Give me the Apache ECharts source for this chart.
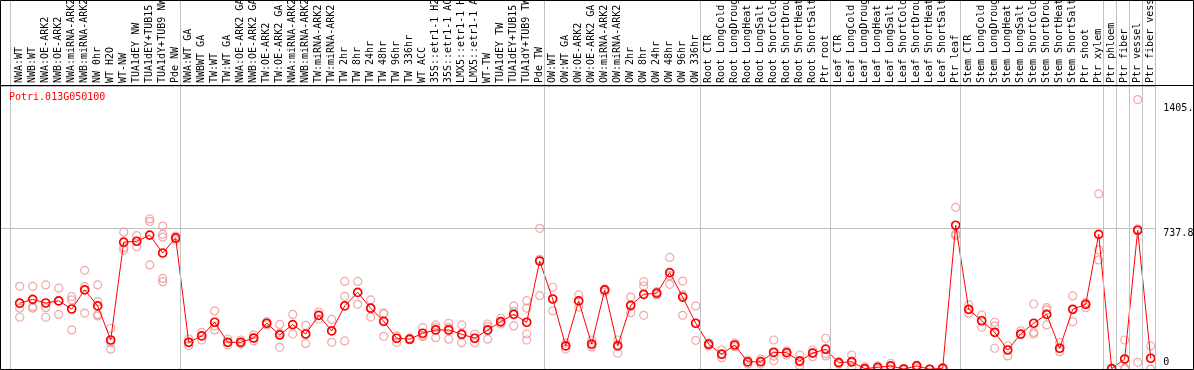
<!DOCTYPE html>
<html><head><meta charset="utf-8">
<script src="https://cdn.jsdelivr.net/npm/echarts@6/dist/echarts.min.js"></script>
<style>html,body{margin:0;padding:0;background:#fff}#c{width:1194px;height:370px}</style>
</head><body><div id="c"></div>
<script>
const title = 'Potri.013G050100';
const categories = [
 'NWA:WT','NWB:WT','NWA:OE-ARK2','NWB:OE-ARK2','NWA:miRNA-ARK2','NWB:miRNA-ARK2','NW 0hr','WT H2O','WT-NW','TUA1dEY NW','TUA1dEY+TUB15 NW','TUA1dY+TUB9 NW','Pde NW',
 'NWA:WT GA','NWBWT GA','TW:WT','TW:WT GA','NWA:OE-ARK2 GA','NWB:OE-ARK2 GA','TW:OE-ARK2','TW:OE-ARK2 GA','NWA:miRNA-ARK2 GA','NWB:miRNA-ARK2 GA','TW:miRNA-ARK2','TW:miRNA-ARK2 GA',
 'TW 2hr','TW 8hr','TW 24hr','TW 48hr','TW 96hr','TW 336hr','WT ACC','35S::etr1-1 H2O','35S::etr1-1 ACC','LMX5::etr1-1 H2O','LMX5::etr1-1 ACC','WT-TW','TUA1dEY TW','TUA1dEY+TUB15 TW','TUA1dY+TUB9 TW','Pde TW',
 'OW:WT','OW:WT GA','OW:OE-ARK2','OW:OE-ARK2 GA','OW:miRNA-ARK2','OW:miRNA-ARK2 GA','OW 2hr','OW 8hr','OW 24hr','OW 48hr','OW 96hr','OW 336hr',
 'Root CTR','Root LongCold','Root LongDrought','Root LongHeat','Root LongSalt','Root ShortCold','Root ShortDrought','Root ShortHeat','Root ShortSalt','Ptr root',
 'Leaf CTR','Leaf LongCold','Leaf LongDrought','Leaf LongHeat','Leaf LongSalt','Leaf ShortCold','Leaf ShortDrought','Leaf ShortHeat','Leaf ShortSalt','Ptr leaf',
 'Stem CTR','Stem LongCold','Stem LongDrought','Stem LongHeat','Stem LongSalt','Stem ShortCold','Stem ShortDrought','Stem ShortHeat','Stem ShortSalt','Ptr shoot','Ptr xylem',
 'Ptr phloem','Ptr fiber','Ptr vessel','Ptr fiber vessel'
];
const groupSizes = [13,28,12,10,10,11,1,1,1,1];
const meanValues = [
 347,367,348,359,317,416,333,156,664,669,701,608,686,
 144,177,248,144,144,166,243,182,236,187,284,203,333,403,321,253,165,160,191,208,208,186,165,208,251,289,248,566,
 369,125,359,135,416,125,336,393,399,506,379,243,
 134,82,130,42,43,92,90,47,88,108,
 38,43,7,14,21,5,21,4,9,752,
 315,256,196,104,187,243,289,113,315,341,705,
 7,57,726,61
];
const replicateValues = [
 [435,321,274],[435,329,321],[442,324,274],[425,359,289],[381,364,208],[518,433,296],[442,355,289,281],[217,143,108],[716,636,624],[698,669,641],[785,771,546],[748,705,690,476,459],[696,686,675],
 [161,144,126],[196,177,156],[307,229,208],[161,144,130],[156,144,135],[183,166,151],[251,243,234],[237,192,118],[289,187],[232,187,138],[301,284,265],[263,203,144],[460,383,151],[460,341],[364,321,275],[295,291,175],[177,165,143],[166,160,156],[220,180,173],[234,220,168],[243,220,160],[234,182,142],[187,165,142],[239,225,160],[269,246,239],[333,305,229],[360,321,187,156],[736,575,386],
 [430,369,307],[140,125,109],[390,359,327],[156,130,120],[421,416,405],[156,132,87],[379,330,298],[459,436,284],[407,399,390],[585,490,445],[462,390,284],[333,243,154],
 [140,134,125],[104,80,64],[140,130,121],[52,42,31],[57,43,31],[156,72,48],[99,90,78],[78,40,24],[104,90,69],[165,85,73],
 [42,38,31],[78,38,14],[16,5,3],[21,14,5],[35,21,5],[8,5,3],[26,21,10],[5,4,3],[13,9,5],[845,707,698],
 [338,315,295],[286,256,222],[248,229,113],[126,104,73],[204,187,182],[343,195,187],[324,312,234],[142,113,95],[385,315,251],[350,341,324],[915,624,572],
 [8,7,3],[156,10,5],[1405,733,40],[125,61,5]
];
const yTickValues = [0, 737.8, 1405];
const yTickLabels = ['0', '737.8', '1405.'];
const yMax = 1475.6;

// layout
const W = 1194, H = 370, x0 = 19.7, step = 13, plotTop = 86, plotRight = 1155.3;
const FONT = 'DejaVu Sans Mono';
const xMin = -x0 / step;
const sepOffset = 0.38;
const separators = [-0.7];
let acc = 0;
groupSizes.forEach(s => { acc += s; separators.push(acc - 1 + sepOffset); });

const repData = [];
replicateValues.forEach((arr, i) => arr.forEach(v => repData.push([i, v])));
const meanData = meanValues.map((v, i) => [i, v]);
const labelFor = v => { const k = yTickValues.indexOf(v); return k >= 0 ? yTickLabels[k] : ''; };
const upperLabel = v => { const t = labelFor(v); return v === yTickValues[2] ? '{lo|' + t + '}' : t; };

const chart = echarts.init(document.getElementById('c'), null, {renderer: 'canvas'});
chart.setOption({
  animation: false,
  backgroundColor: '#fff',
  title: {text: title, left: 9, top: 92, padding: 0,
    textStyle: {color: '#ff0000', fontSize: 10, fontWeight: 'normal', fontFamily: FONT}},
  grid: [
    {left: 0, right: 0, top: 0, bottom: 0, containLabel: false, outerBoundsMode: 'none'},
    {left: 0, right: W - plotRight, top: plotTop, bottom: 0, containLabel: false, outerBoundsMode: 'none'}
  ],
  xAxis: [
    {gridIndex: 0, type: 'value', min: xMin, max: (W - x0) / step, show: false},
    {gridIndex: 1, type: 'value', position: 'top', min: xMin, max: (plotRight - x0) / step,
      axisLine: {show: false}, axisTick: {show: false}, splitLine: {show: false},
      axisLabel: {customValues: categories.map((_, i) => i), formatter: v => categories[Math.round(v)] || '',
        rotate: 90, margin: 3, fontFamily: FONT, fontSize: 10, color: '#000', hideOverlap: false}}
  ],
  yAxis: [
    {gridIndex: 0, type: 'value', min: 0, max: 1, show: false},
    {gridIndex: 1, type: 'value', position: 'right', min: 0, max: yMax, interval: yMax / 2,
      axisLine: {show: false}, axisTick: {show: false},
      splitLine: {show: true, lineStyle: {color: '#c0c0c0', width: 1}},
      axisLabel: {customValues: yTickValues.slice(1), formatter: upperLabel, verticalAlign: 'top', margin: 8,
        fontFamily: FONT, fontSize: 10, color: '#000',
        rich: {lo: {fontFamily: FONT, fontSize: 10, color: '#000', padding: [4, 0, 0, 0]}}}},
    {gridIndex: 1, type: 'value', position: 'right', min: 0, max: yMax,
      axisLine: {show: false}, axisTick: {show: false}, splitLine: {show: false},
      axisLabel: {customValues: yTickValues.slice(0, 1), formatter: labelFor, verticalAlign: 'bottom', margin: 8,
        padding: [0, 0, 3, 0], fontFamily: FONT, fontSize: 10, color: '#000'}}
  ],
  series: [
    {type: 'line', xAxisIndex: 0, yAxisIndex: 0, data: [], silent: true,
      markLine: {silent: true, symbol: ['none', 'none'], label: {show: false}, animation: false,
        lineStyle: {color: '#c0c0c0', type: 'solid', width: 1},
        data: separators.map(v => ({xAxis: v}))}},
    {type: 'scatter', xAxisIndex: 1, yAxisIndex: 1, data: repData, symbol: 'circle', symbolSize: 8,
      itemStyle: {color: 'rgba(0,0,0,0)', borderColor: 'rgb(238,148,148)', borderWidth: 1.2}, z: 3},
    {type: 'line', xAxisIndex: 1, yAxisIndex: 1, data: meanData, symbol: 'circle', symbolSize: 8,
      lineStyle: {color: '#ff0000', width: 1},
      itemStyle: {color: 'rgba(0,0,0,0)', borderColor: '#ff0000', borderWidth: 1.7}, z: 4}
  ],
  graphic: [
    {type: 'rect', z: 100, silent: true, shape: {x: 0.5, y: 0.5, width: W - 1, height: H - 1},
      style: {fill: null, stroke: '#000', lineWidth: 1}},
    {type: 'line', z: 100, silent: true, shape: {x1: 0, y1: plotTop - 0.5, x2: W, y2: plotTop - 0.5},
      style: {stroke: '#000', lineWidth: 1}}
  ]
});
</script></body></html>
